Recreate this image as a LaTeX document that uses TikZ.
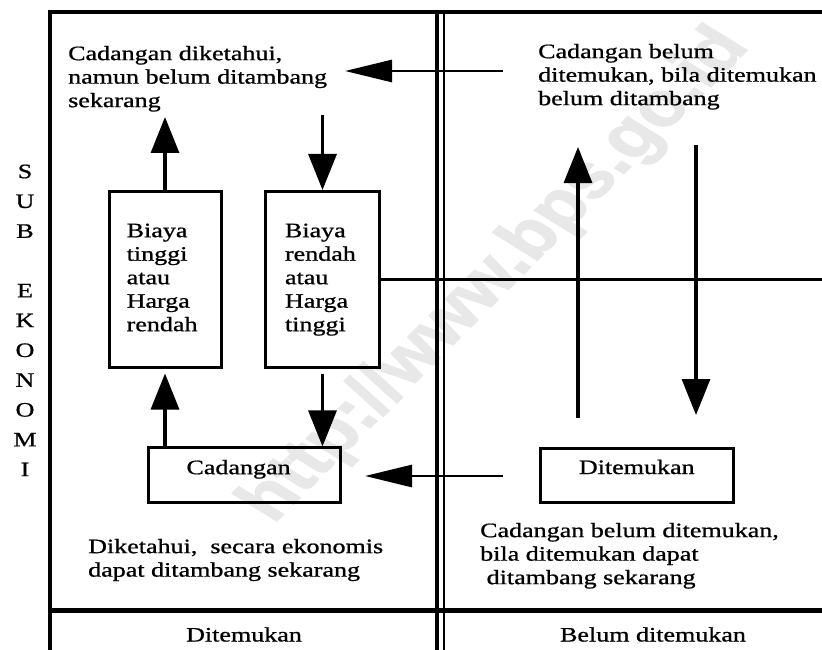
\documentclass[tikz,border=0pt]{standalone}
\usepackage{fontspec}
\setmainfont{Liberation Serif}[FakeBold=0.8]
\newfontfamily\wmfont{Liberation Sans}[FakeBold=2]
\usetikzlibrary{arrows.meta}
\newcommand{\hs}[1]{\strut\scalebox{1.27}[1]{#1}}
\begin{document}
\begin{tikzpicture}[x=1pt,y=-1pt,
  font=\fontsize{20.5}{23.5}\selectfont,
  frame/.style={line width=4.5pt},
  box/.style={draw, line width=3pt, inner sep=0pt},
  txt/.style={inner sep=0pt, align=left, anchor=north west},
  lbl/.style={inner sep=0pt, anchor=base},
  harr/.style={line width=2.8pt, -{Triangle[length=47pt,width=22pt]}},
  varr/.style={line width=3.3pt, -{Triangle[length=36pt,width=28pt]}},
  thin/.style={line width=2.7pt}]
\useasboundingbox (0,0) rectangle (822,650);
% watermark
\begin{scope}[xscale=1.27]
\node[rotate=51.8, transform shape, inner sep=0pt, text=black!9, font=\wmfont\bfseries\fontsize{62}{62}\selectfont] (wm) at (390.6,276) {http://www.bps.go.id};
\end{scope}
% frame
\draw[frame, line join=miter] (50,650) -- (50,12) -- (822,12);
\draw[frame] (437,12) -- (437,650);
\draw[line width=2.5pt] (444,12) -- (444,650);
\draw[line width=5pt] (50,610) -- (822,610);
% side label
\node[inner sep=0pt, anchor=north, align=center, font=\fontsize{20.5}{29.8}\selectfont] (sub) at (25,157.1)
  {\hs{S}\\\hs{U}\\\hs{B}\\\strut\\\hs{E}\\\hs{K}\\\hs{O}\\\hs{N}\\\hs{O}\\\hs{M}\\\hs{I}};
% texts
\node[txt] (tl) at (68,43.5) {\hs{Cadangan diketahui,}\\\hs{namun belum ditambang}\\\hs{sekarang}};
\node[txt] (tr) at (538,41.5) {\hs{Cadangan belum}\\\hs{ditemukan, bila ditemukan}\\\hs{belum ditambang}};
\node[txt] (bl) at (88,536.5) {\hs{Diketahui,\ \ secara ekonomis}\\\hs{dapat ditambang sekarang}};
\node[txt] (br) at (480,520.5) {\hs{Cadangan belum ditemukan,}\\\hs{bila ditemukan dapat}\\\hs{\ ditambang sekarang}};
% boxes
\node[box, minimum width=112pt, minimum height=176pt, text width=76.6pt, align=left] (b1) at (165,279.5)
  {\hs{Biaya}\\\hs{tinggi}\\\hs{atau}\\\hs{Harga}\\\hs{rendah}};
\node[box, minimum width=114pt, minimum height=176pt, text width=75pt, align=left] (b2) at (322.5,279.5)
  {\hs{Biaya}\\\hs{rendah}\\\hs{atau}\\\hs{Harga}\\\hs{tinggi}};
\node[box, minimum width=192pt, minimum height=54.5pt, text width=115pt, align=left, text height=6pt, text depth=8pt] (cad) at (244,475.2)
  {\scalebox{1.27}[1]{Cadangan}};
\node[box, minimum width=192.5pt, minimum height=54pt, text height=6pt, text depth=8pt] (dit) at (636.8,475)
  {\scalebox{1.27}[1]{Ditemukan}};
% bottom labels
\node[lbl] (lk) at (244,641.5) {\scalebox{1.27}[1]{Ditemukan}};
\node[lbl] (lb) at (653,641.5) {\scalebox{1.27}[1]{Belum ditemukan}};
% arrow end points
\coordinate (a1s) at (503,71);
\coordinate (a1e) at (345,71);
\coordinate (t1) at (165,117);
\coordinate (s2) at (322.5,115);
\coordinate (a6s) at (503,476);
\coordinate (a6e) at (365,476);
\coordinate (r1s) at (578,418);
\coordinate (r1e) at (578,147);
\coordinate (r2s) at (696,145);
\coordinate (r2e) at (696,415);
\coordinate (le) at (822,279.5);
% connectors
\draw[harr] (a1s) -- (a1e);
\draw[varr] (b1.north) -- (t1);
\draw[varr] (s2) -- (b2.north);
\draw[varr] (cad.north -| b1.south) -- ([yshift=-4.5pt]b1.south);
\draw[varr] ([yshift=-4.5pt]b2.south) -- (b2.south |- cad.north);
\draw[harr] (a6s) -- (a6e);
\draw[varr] (r1s) -- (r1e);
\draw[varr] (r2s) -- (r2e);
\draw[thin] (b2.east) -- (le);
\end{tikzpicture}
\end{document}
